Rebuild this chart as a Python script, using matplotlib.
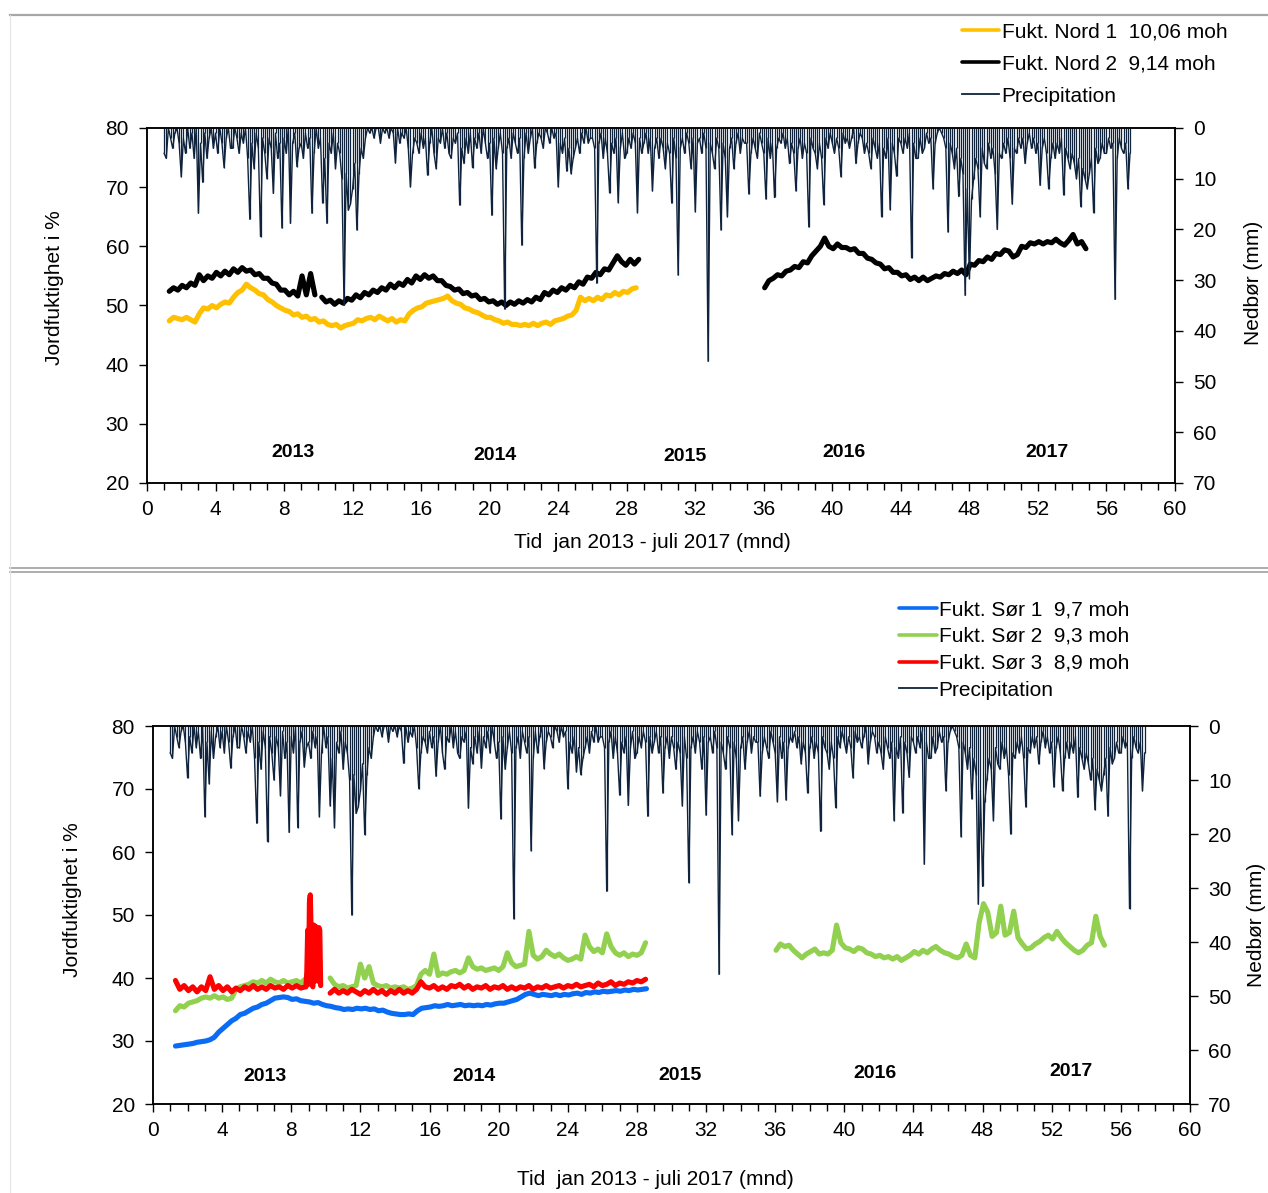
import numpy as np
import matplotlib
matplotlib.use("Agg")
import matplotlib.pyplot as plt
from matplotlib.ticker import MultipleLocator
from matplotlib.lines import Line2D

plt.rcParams['font.family'] = ['Liberation Sans', 'DejaVu Sans']

# ---- data (months since jan 2013) ----
# precipitation, 8 readings per month starting at month 1.0
precip_start = 1.0
precip_per_month = 8
precip_rows = [
    [5, 6, 0, 2, 4, 1, 0, 3],
    [9.6, 2, 5, 0, 4, 1, 6, 0],
    [16.8, 3, 10.7, 1, 6, 2, 0, 4],
    [1, 5, 0, 3, 7.8, 2, 0, 4],
    [4, 0, 2, 5, 1, 3, 0, 6],
    [18, 3, 8, 1, 4, 21.4, 2, 5],
    [10, 2, 4, 12.9, 1, 6, 3, 19.7],
    [2, 5, 0, 18.8, 3, 1, 7.6, 4],
    [3, 6, 1, 4, 2, 16.8, 5, 0],
    [4, 2, 14.8, 6, 18.8, 3, 5, 1],
    [8, 3, 5, 10, 35, 9, 16.2, 15],
    [12, 7, 20.1, 9, 4, 6, 2, 0],
    [1, 0, 2, 0, 0, 3, 0, 1],
    [0, 2, 0, 1, 6.9, 0, 3, 1],
    [2, 0, 4, 11.6, 5, 2, 3, 5],
    [1, 4, 2, 9.3, 3, 0, 5, 8],
    [2, 3, 0, 4, 1, 5, 6, 2],
    [3, 1, 15.2, 4, 7, 2, 5, 1],
    [7.8, 2, 4, 1, 5, 0, 3, 6],
    [3, 17.2, 2, 8, 4, 1, 5, 35.7],
    [4, 2, 6, 1, 3, 5, 2, 23.1],
    [6, 1, 5, 2, 0, 7.9, 3, 1],
    [2, 4, 0, 1, 3, 0, 2, 1],
    [11.6, 3, 5, 2, 8.5, 4, 9, 6],
    [4, 2, 5, 1, 3, 0, 3, 2],
    [2, 4, 30.6, 3, 1, 6, 2, 5],
    [12.8, 3, 5, 2, 14.7, 4, 1, 6],
    [5, 2, 4, 1, 3, 16.7, 2, 5],
    [3, 1, 5, 2, 12.4, 4, 2, 6],
    [2, 4, 8, 3, 5, 14.8, 2, 6],
    [29, 4, 2, 5, 1, 3, 8, 2],
    [16.5, 3, 2, 5, 1, 4, 46, 3],
    [5, 8, 2, 4, 20.1, 3, 6, 17.5],
    [4, 2, 8, 3, 1, 5, 2, 3],
    [3, 13, 5, 2, 4, 6, 1, 3],
    [5, 14, 2, 6, 3, 13.7, 4, 2],
    [3, 1, 4, 2, 7, 3, 5, 12.4],
    [4, 2, 6, 3, 5, 19.5, 2, 4],
    [5, 8, 3, 6, 15.1, 2, 4, 1],
    [3, 5, 2, 4, 9.6, 1, 3, 2],
    [4, 2, 0, 7, 3, 1, 2, 5],
    [3, 5, 8, 2, 4, 6, 3, 17.5],
    [4, 6, 2, 16.1, 3, 5, 9.5, 2],
    [3, 5, 2, 4, 1, 25.6, 3, 6],
    [6, 2, 5, 4, 1, 3, 2, 12],
    [3, 1, 0, 1, 2, 4, 20.5, 3],
    [5, 8, 4, 13.5, 6, 9, 33, 12],
    [29.7, 14, 10, 6, 8, 17.5, 4, 7],
    [8, 3, 6, 4, 9, 20, 5, 6],
    [3, 5, 2, 6, 15, 4, 5, 2],
    [4, 2, 7, 3, 1, 4, 2, 5],
    [3, 11.3, 4, 2, 5, 12, 6, 3],
    [6, 3, 5, 2, 13.2, 4, 6, 8],
    [5, 7, 10, 6, 15.5, 8, 10, 12],
    [9, 6, 16.7, 4, 7, 6, 3, 5],
    [5, 2, 4, 3, 33.8, 6, 2, 4],
    [5, 3, 12, 5],
]

# soil moisture series: (start month, step, values)
nord1 = (1.3, 0.25, [
    47.4, 48.0, 47.8, 47.6, 48.0, 47.6, 47.2, 48.6, 49.6, 49.4, 50.0, 49.6, 50.2, 50.6, 50.4,
    51.4, 52.2, 52.6, 53.6, 53.0, 52.6, 52.0, 51.8, 51.0, 50.6, 50.0, 49.6, 49.2, 49.0, 48.4,
    48.6, 48.0, 48.2, 47.6, 47.8, 47.2, 47.4, 46.8, 46.6, 46.8, 46.2, 46.6, 46.8, 47.0, 47.6,
    47.4, 47.8, 48.0, 47.6, 48.2, 47.8, 47.4, 47.8, 47.2, 47.6, 47.4, 48.6, 49.2, 49.6, 49.8,
    50.4, 50.6, 50.8, 51.0, 51.2, 51.6, 50.8, 50.4, 50.2, 49.6, 49.4, 49.0, 48.8, 48.4, 48.0,
    48.0, 47.6, 47.4, 47.0, 47.2, 46.8, 46.8, 46.6, 46.8, 46.6, 47.0, 46.6, 47.0, 47.2, 46.8,
    47.4, 47.6, 47.8, 48.2, 48.4, 49.2, 51.4, 50.8, 51.2, 50.8, 51.4, 51.0, 51.8, 51.6, 52.2,
    51.8, 52.4, 52.2, 52.8, 53.0])

nord2_a = (1.3, 0.25, [
    52.4, 53.0, 52.6, 53.4, 53.0, 53.8, 53.4, 55.2, 54.2, 55.0, 54.6, 55.6, 55.0, 55.8, 55.2,
    56.2, 55.6, 56.4, 55.8, 56.0, 55.2, 55.4, 54.6, 54.6, 53.8, 53.6, 52.6, 52.6, 51.8, 52.4,
    51.6, 55.0, 51.8, 55.4, 51.8])
nord2_b = (10.2, 0.25, [
    51.4, 50.6, 50.9, 50.2, 50.8, 50.4, 51.2, 50.9, 51.8, 51.3, 52.2, 51.8, 52.6, 52.2, 53.0,
    52.6, 53.6, 53.0, 53.8, 53.4, 54.4, 53.8, 55.0, 54.4, 55.2, 54.6, 55.0, 54.2, 54.2, 53.4,
    53.2, 52.6, 52.8, 52.0, 52.2, 51.6, 51.8, 51.0, 51.2, 50.6, 50.8, 50.2, 50.6, 50.0, 50.6,
    50.2, 50.8, 50.4, 51.0, 50.6, 51.4, 51.0, 52.2, 51.8, 52.6, 52.2, 53.0, 52.6, 53.4, 53.0,
    54.0, 53.6, 54.8, 54.6, 55.6, 55.2, 56.2, 56.0, 57.2, 58.4, 57.4, 56.8, 57.8, 57.0, 57.8])
nord2_c = (36.05, 0.25, [
    53.0, 54.2, 54.6, 55.2, 55.0, 55.8, 56.0, 56.6, 56.4, 57.4, 57.2, 58.4, 59.2, 60.0, 61.4,
    60.0, 59.6, 60.4, 59.8, 59.8, 59.4, 59.6, 58.8, 58.8, 58.0, 57.8, 57.2, 57.0, 56.2, 56.4,
    55.6, 55.6, 55.0, 55.2, 54.4, 54.8, 54.2, 54.8, 54.2, 54.6, 55.0, 54.8, 55.4, 55.2, 55.8,
    55.4, 56.0, 55.2, 57.0, 56.8, 57.6, 57.4, 58.2, 57.8, 58.8, 58.6, 59.4, 59.2, 58.2, 58.6,
    60.0, 59.8, 60.6, 60.4, 60.8, 60.4, 60.8, 60.6, 61.2, 60.6, 60.2, 61.0, 62.0, 60.4, 60.8,
    59.6])

sor1 = (1.3, 0.25, [
    29.2, 29.3, 29.4, 29.5, 29.6, 29.8, 29.9, 30.0, 30.2, 30.6, 31.4, 32.0, 32.6, 33.2, 33.6,
    34.2, 34.4, 34.8, 35.2, 35.4, 35.8, 36.0, 36.4, 36.8, 36.9, 37.0, 36.9, 36.6, 36.7, 36.4,
    36.3, 36.2, 36.0, 36.1, 35.8, 35.6, 35.5, 35.3, 35.2, 35.0, 35.1, 35.0, 35.2, 35.1, 35.2,
    35.0, 35.1, 34.8, 34.9, 34.6, 34.4, 34.3, 34.2, 34.2, 34.3, 34.2, 34.8, 35.2, 35.3, 35.4,
    35.6, 35.5, 35.6, 35.8, 35.6, 35.7, 35.8, 35.6, 35.7, 35.6, 35.7, 35.6, 35.8, 35.7, 35.9,
    36.0, 36.0, 36.2, 36.4, 36.6, 37.0, 37.4, 37.6, 37.4, 37.2, 37.4, 37.3, 37.2, 37.4, 37.2,
    37.4, 37.3, 37.5, 37.6, 37.4, 37.7, 37.6, 37.8, 37.7, 37.9, 37.8, 37.9, 38.0, 37.9, 38.1,
    38.0, 38.2, 38.1, 38.2, 38.3])

sor2_a = (1.3, 0.25, [
    34.8, 35.6, 35.4, 36.0, 36.2, 36.4, 36.8, 37.0, 36.8, 37.2, 36.8, 37.0, 36.6, 36.8, 38.2,
    38.6, 38.8, 39.0, 39.4, 39.2, 39.6, 39.2, 39.8, 39.4, 39.2, 39.6, 39.2, 39.4, 39.6, 39.2,
    39.8, 39.4])
sor2_b = (10.25, 0.25, [
    40.0, 39.0, 38.6, 38.8, 38.4, 38.6, 38.8, 42.2, 40.0, 41.8, 39.2, 38.8, 38.6, 38.8, 38.4,
    38.6, 38.4, 38.6, 38.2, 38.4, 38.8, 40.6, 41.2, 40.6, 43.8, 40.4, 40.8, 40.6, 41.0, 41.2,
    40.8, 41.2, 43.2, 41.8, 41.4, 41.6, 41.2, 41.4, 41.6, 41.2, 41.8, 44.0, 42.4, 41.8, 42.0,
    42.2, 47.4, 43.6, 43.0, 43.4, 44.4, 43.8, 43.4, 43.8, 43.2, 42.8, 43.0, 43.4, 43.0, 46.8,
    45.0, 44.2, 44.6, 44.0, 47.0, 45.0, 44.0, 43.6, 44.0, 43.4, 43.8, 43.6, 44.0, 45.6])
sor2_c = (36.05, 0.25, [
    44.4, 45.4, 45.0, 45.2, 44.4, 43.8, 43.2, 43.8, 44.2, 44.6, 43.8, 44.0, 43.8, 44.4, 48.4,
    45.6, 44.8, 44.6, 44.2, 44.8, 44.6, 44.0, 43.8, 43.4, 43.6, 43.2, 43.4, 43.0, 43.4, 42.8,
    43.2, 43.6, 44.2, 43.8, 44.4, 44.0, 44.6, 45.0, 44.4, 44.0, 43.8, 43.4, 43.2, 43.6, 45.4,
    43.6, 43.2, 48.8, 51.8, 50.4, 46.6, 47.2, 51.4, 46.8, 47.2, 50.6, 46.4, 45.4, 44.6, 44.8,
    45.4, 45.8, 46.4, 46.8, 46.2, 47.4, 46.4, 45.6, 45.0, 44.4, 44.0, 44.4, 45.2, 45.6, 49.8,
    46.6, 45.2])

sor3_a = (1.3, 0.25, [
    39.6, 38.2, 38.8, 38.0, 38.6, 37.8, 38.6, 38.0, 40.2, 38.2, 38.8, 38.0, 38.6, 37.8, 38.4,
    38.0, 38.6, 38.2, 38.8, 38.2, 38.6, 38.2, 38.8, 38.4, 38.6, 38.2, 38.8, 38.4, 38.8, 38.4,
    38.6])
sor3_spike = (8.85, 0.05, [
    38.6, 41.0, 47.6, 39.0, 52.0, 53.2, 47.0, 39.0, 38.6, 48.4, 39.5, 48.2, 40.0, 47.8, 39.5,
    48.0, 47.6, 38.8])
sor3_b = (10.25, 0.25, [
    37.6, 38.2, 37.6, 38.0, 37.6, 38.2, 37.8, 37.4, 38.0, 37.6, 38.2, 37.6, 38.0, 37.4, 38.0,
    37.6, 38.2, 37.6, 38.0, 37.6, 38.2, 39.4, 38.6, 38.4, 38.8, 38.2, 38.6, 38.2, 38.8, 38.6,
    39.0, 38.4, 38.8, 38.2, 38.6, 38.4, 38.8, 38.2, 38.6, 38.4, 38.8, 38.2, 38.6, 38.2, 38.6,
    38.4, 38.8, 38.2, 38.6, 38.4, 38.8, 38.4, 38.6, 38.8, 38.4, 38.8, 38.6, 39.0, 38.6, 38.8,
    39.0, 38.6, 39.2, 38.8, 39.0, 39.4, 38.8, 39.2, 39.0, 39.4, 39.2, 39.6, 39.4, 39.8])

years = ['2013', '2014', '2015', '2016', '2017']
year_x_top = [8.5, 20.3, 31.4, 40.7, 52.5]
year_y_top = [25.2, 24.7, 24.5, 25.1, 25.2]
year_x_bot = [6.5, 18.6, 30.5, 41.8, 53.1]
year_y_bot = [24.4, 24.4, 24.6, 24.9, 25.2]

C_PREC = '#0F233D'
C_NORD1 = '#FFC000'
C_NORD2 = '#000000'
C_SOR1 = '#0A6CF5'
C_SOR2 = '#92D050'
C_SOR3 = '#FF0000'
FS = 15
LW_SOIL = 3.7


def series(s):
    start, step, vals = s
    return start + step * np.arange(len(vals)), np.array(vals)


def draw_line(ax, segs, color, label):
    h = None
    for s in segs:
        x, y = series(s)
        h, = ax.plot(x, y, color=color, lw=LW_SOIL, solid_joinstyle='round',
                     solid_capstyle='round', label=label)
    return h


def draw_precip(axr, x, v):
    # strokes hanging from 0 mm plus the connecting line, as the dense daily trace
    axr.vlines(x, 0, v, color=C_PREC, lw=0.9)
    axr.plot(x, v, color=C_PREC, lw=1.0)
    return Line2D([], [], color=C_PREC, lw=1.3, label='Precipitation')


def style_panel(ax, axr, xlab_pos, ylab_pos, rlab_pos):
    ax.set_xlim(0, 60)
    ax.set_ylim(20, 80)
    axr.set_ylim(70, 0)
    ax.xaxis.set_major_locator(MultipleLocator(4))
    ax.xaxis.set_minor_locator(MultipleLocator(1))
    ax.yaxis.set_major_locator(MultipleLocator(10))
    axr.yaxis.set_major_locator(MultipleLocator(10))
    ax.tick_params(axis='x', which='major', length=6, width=1, labelsize=FS, pad=6)
    ax.tick_params(axis='x', which='minor', length=5, width=1)
    ax.tick_params(axis='y', length=6, width=1, labelsize=FS, pad=7)
    axr.tick_params(axis='y', length=6, width=1, labelsize=FS, pad=7)
    for a in (ax, axr):
        for sp in a.spines.values():
            sp.set_linewidth(1.1)
    ax.set_xlabel('Tid  jan 2013 - juli 2017 (mnd)', fontsize=FS, va='center')
    ax.xaxis.set_label_coords(*xlab_pos)
    ax.set_ylabel('Jordfuktighet i %', fontsize=FS, va='center')
    ax.yaxis.set_label_coords(*ylab_pos)
    axr.set_ylabel('Nedbør (mm)', fontsize=FS, va='center', rotation=90)
    axr.yaxis.set_label_coords(*rlab_pos)


W, H = 1268, 1193
fig = plt.figure(figsize=(W / 100, H / 100), dpi=100)

# frame lines of the two pasted chart boxes
fig.add_artist(Line2D([10 / W, 1], [1 - 15 / H] * 2, color='#a6a6a6', lw=1.6))
fig.add_artist(Line2D([10 / W, 1], [1 - 568 / H] * 2, color='#a0a0a0', lw=1.2))
fig.add_artist(Line2D([10 / W, 1], [1 - 571.5 / H] * 2, color='#a0a0a0', lw=1.2))
fig.add_artist(Line2D([10 / W] * 2, [0, 1 - 15 / H], color='#e4e4e4', lw=0.8))

precip = np.concatenate([np.array(r, dtype=float) for r in precip_rows])
px = precip_start + np.arange(len(precip)) / precip_per_month

# ---- top panel: Nord ----
ax1 = fig.add_axes([147 / W, 1 - 483 / H, 1028 / W, 355 / H])
ax1r = ax1.twinx()
h1 = draw_line(ax1, [nord1], C_NORD1, 'Fukt. Nord 1  10,06 moh')
h2 = draw_line(ax1, [nord2_a, nord2_b, nord2_c], C_NORD2, 'Fukt. Nord 2  9,14 moh')
hp = draw_precip(ax1r, px, precip)
for t, x, y in zip(years, year_x_top, year_y_top):
    ax1.text(x, y, t, fontsize=14, fontweight='bold', ha='center', va='center')
style_panel(ax1, ax1r, (0.492, -0.169), (-0.0895, 0.55), (1.076, 0.565))
leg1 = fig.legend([h1, h2, hp], [h.get_label() for h in (h1, h2, hp)],
                  loc='upper left', bbox_to_anchor=(962 / W, 1 - 22 / H),
                  frameon=False, fontsize=FS, handlelength=1.8, handletextpad=0.1,
                  labelspacing=0.64, borderpad=0, borderaxespad=0)
for lh, lw in zip(leg1.get_lines(), (2.6, 2.6, 1.3)):
    lh.set_linewidth(lw)

# ---- bottom panel: Sør ----
ax2 = fig.add_axes([153 / W, 1 - 1104 / H, 1037 / W, 378 / H])
ax2r = ax2.twinx()
g1 = draw_line(ax2, [sor1], C_SOR1, 'Fukt. Sør 1  9,7 moh')
g2 = draw_line(ax2, [sor2_a, sor2_b, sor2_c], C_SOR2, 'Fukt. Sør 2  9,3 moh')
g3 = draw_line(ax2, [sor3_a, sor3_spike, sor3_b], C_SOR3, 'Fukt. Sør 3  8,9 moh')
gp = draw_precip(ax2r, px, precip)
for t, x, y in zip(years, year_x_bot, year_y_bot):
    ax2.text(x, y, t, fontsize=14, fontweight='bold', ha='center', va='center')
style_panel(ax2, ax2r, (0.484, -0.201), (-0.078, 0.54), (1.0646, 0.474))
leg2 = fig.legend([g1, g2, g3, gp], [h.get_label() for h in (g1, g2, g3, gp)],
                  loc='upper left', bbox_to_anchor=(899 / W, 1 - 600 / H),
                  frameon=False, fontsize=FS, handlelength=1.8, handletextpad=0.1,
                  labelspacing=0.38, borderpad=0, borderaxespad=0)
for lh, lw in zip(leg2.get_lines(), (2.6, 2.6, 2.6, 1.3)):
    lh.set_linewidth(lw)

fig.savefig('out.png', dpi=100)
